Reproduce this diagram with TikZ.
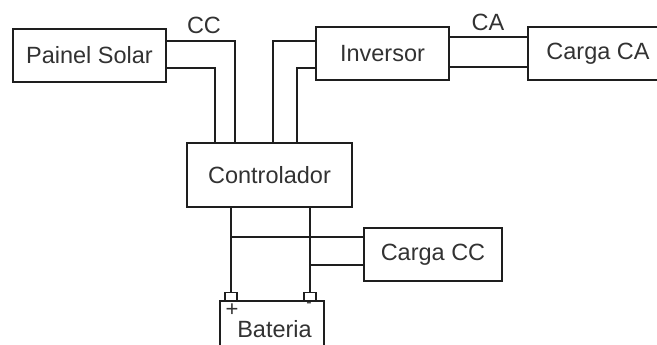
\documentclass[tikz,border=0pt]{standalone}
\usepackage{fontspec}
\setmainfont{Liberation Sans}
\usetikzlibrary{calc}
\definecolor{wire}{RGB}{30, 30, 30}
\definecolor{ink}{RGB}{50, 50, 50}

\begin{document}
\begin{tikzpicture}[
	x=1pt, y=-1pt,
	font=\fontsize{23.5}{26}\selectfont,
	% Styles for the blocks and the wires
	unitbox/.style={draw=wire, line width=1.6pt, text=ink, inner sep=0pt},
	terminal/.style={draw=wire, line width=1.4pt, minimum width=12pt, minimum height=8pt, inner sep=0pt},
	wireline/.style={draw=wire, line width=1.8pt},
	labeltext/.style={text=ink, inner sep=0pt}
	]
	\useasboundingbox (0,0) rectangle (657,345);
	
	% ==========================================
	% 1. BLOCKS
	% ==========================================
	\node[unitbox, minimum width=153pt, minimum height=53pt] (painel) at (89.5, 55.5) {Painel Solar};
	\node[unitbox, minimum width=133pt, minimum height=53pt] (inversor) at (382.5, 53.5) {Inversor};
	\node[unitbox, minimum width=140pt, minimum height=53pt] (cargaca) at (598, 53.5) {Carga CA};
	\node[unitbox, minimum width=165pt, minimum height=64pt] (ctrl) at (269.5, 175) {Controlador};
	\node[unitbox, minimum width=138pt, minimum height=53pt] (cargacc) at (433, 254.5) {Carga CC};
	
	% Battery with its two terminals
	\node[unitbox, minimum width=104pt, minimum height=56pt] (bateria) at (272, 329) {};
	\node[labeltext] (batlabel) at (274.5, 329) {Bateria};
	\node[terminal, anchor=south] (termpos) at (231, 301) {};
	\node[terminal, anchor=south] (termneg) at (310, 301) {};
	\node[labeltext, font=\fontsize{22}{22}\selectfont] (plus) at (232, 310) {+};
	\node[labeltext, font=\fontsize{16}{16}\selectfont] (minus) at (309, 305) {-};
	
	% ==========================================
	% 2. WIRES
	% ==========================================
	% Painel Solar -> Controlador (CC)
	\draw[wireline] ([yshift=14.5pt]painel.east) -| ([xshift=-34.5pt]ctrl.north);
	\draw[wireline] ([yshift=-12.5pt]painel.east) -| ([xshift=-54.5pt]ctrl.north);
	\node[labeltext] (cclabel) at (204, 25) {CC};
	
	% Controlador -> Inversor
	\draw[wireline] ([xshift=3.5pt]ctrl.north) |- ([yshift=12.5pt]inversor.west);
	\draw[wireline] ([xshift=27.5pt]ctrl.north) |- ([yshift=-14.5pt]inversor.west);
	
	% Inversor -> Carga CA (CA)
	\draw[wireline] ([yshift=16.5pt]inversor.east) -- ([yshift=16.5pt]inversor.east -| cargaca.west);
	\draw[wireline] ([yshift=-13.5pt]inversor.east) -- ([yshift=-13.5pt]inversor.east -| cargaca.west);
	\node[labeltext] (calabel) at (488, 22) {CA};
	
	% Controlador -> Bateria
	\draw[wireline] (termpos.north) -- (termpos.north |- ctrl.south);
	\draw[wireline] (termneg.north) -- (termneg.north |- ctrl.south);
	
	% Bateria lines -> Carga CC
	\coordinate (ccin1) at ([yshift=17.5pt]cargacc.west);
	\coordinate (ccin2) at ([yshift=-10.5pt]cargacc.west);
	\draw[wireline] (ccin1) -- (ccin1 -| termpos);
	\draw[wireline] (ccin2) -- (ccin2 -| termneg);
\end{tikzpicture}
\end{document}
